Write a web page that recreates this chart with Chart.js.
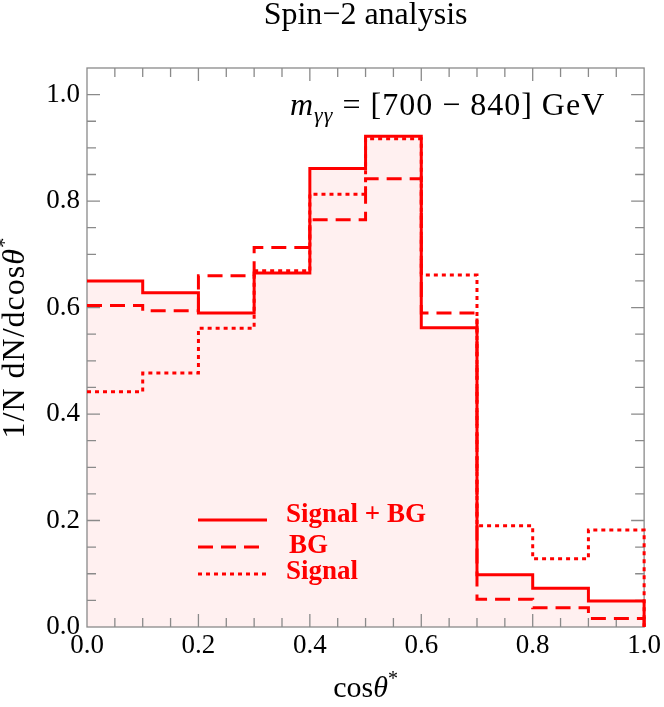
<!DOCTYPE html>
<html>
<head>
<meta charset="utf-8">
<script src="https://cdn.jsdelivr.net/npm/chart.js@4.4.1/dist/chart.umd.min.js"></script>
<style>
  html, body { margin: 0; padding: 0; background: #fff; }
  canvas { display: block; }
</style>
</head>
<body>
<canvas id="chart" width="664" height="707"></canvas>
<script>
// bin edges of cos(theta*) and the three histograms (one value per bin)
const binEdges = [0.0, 0.1, 0.2, 0.3, 0.4, 0.5, 0.6, 0.7, 0.8, 0.9, 1.0];
const signalPlusBG = [0.650, 0.628, 0.590, 0.665, 0.861, 0.922, 0.562, 0.098, 0.073, 0.049];
const bgOnly = [0.604, 0.594, 0.660, 0.713, 0.765, 0.842, 0.590, 0.052, 0.036, 0.016];
const signalOnly = [0.442, 0.477, 0.561, 0.669, 0.813, 0.917, 0.661, 0.190, 0.128, 0.182];
const seriesLabels = ['Signal + BG', 'BG', 'Signal'];
const xTicks = [0.0, 0.2, 0.4, 0.6, 0.8, 1.0];
const yTicks = [0.0, 0.2, 0.4, 0.6, 0.8, 1.0];

const SERIF = '"Liberation Serif", "Times New Roman", serif';
const RED = '#ff0000';

// bin values -> step outline, closed down to zero on the right side
function histPoints(values) {
    const pts = values.map((v, i) => ({ x: binEdges[i], y: v }));
    const last = binEdges[binEdges.length - 1];
    pts.push({ x: last, y: values[values.length - 1] });
    pts.push({ x: last, y: 0 });
    return pts;
}

function runsWidth(ctx, runs) {
    let w = 0;
    runs.forEach(r => { ctx.font = r.font; w += ctx.measureText(r.text).width; });
    return w;
}

function drawRuns(ctx, runs, x, y) {
    let cx = x;
    runs.forEach(r => {
        ctx.font = r.font;
        ctx.fillText(r.text, cx, y + (r.dy || 0));
        cx += ctx.measureText(r.text).width;
    });
}

// box with inward ticks on all four sides
const frameTicks = {
    id: 'frameTicks',
    beforeDatasetsDraw(chart) {
        const { ctx, chartArea: a, scales: { x, y } } = chart;
        ctx.save();
        ctx.strokeStyle = '#8a8a8a';
        ctx.lineWidth = 1.3;
        ctx.beginPath();
        for (let i = 1; i < 20; i++) {
            const px = x.getPixelForValue(i * 0.05);
            const len = i % 4 === 0 ? 13 : 9;
            ctx.moveTo(px, a.bottom); ctx.lineTo(px, a.bottom - len);
            ctx.moveTo(px, a.top); ctx.lineTo(px, a.top + len);
        }
        for (let i = 1; i <= 20; i++) {
            const py = y.getPixelForValue(i * 0.05);
            const len = i % 4 === 0 ? 13 : 9;
            ctx.moveTo(a.left, py); ctx.lineTo(a.left + len, py);
            ctx.moveTo(a.right, py); ctx.lineTo(a.right - len, py);
        }
        ctx.stroke();
        ctx.strokeRect(a.left, a.top, a.right - a.left, a.bottom - a.top);
        ctx.restore();
    }
};

// axis titles, mass window note and the legend
const decorations = {
    id: 'decorations',
    afterDraw(chart) {
        const { ctx, chartArea: a } = chart;
        ctx.save();
        ctx.fillStyle = '#000';
        ctx.textBaseline = 'alphabetic';

        const xTitle = [
            { text: 'cos', font: '30px ' + SERIF },
            { text: 'θ', font: 'italic 30px ' + SERIF },
            { text: '*', font: '20px ' + SERIF, dy: -12 }
        ];
        const cx = (a.left + a.right) / 2;
        drawRuns(ctx, xTitle, cx - runsWidth(ctx, xTitle) / 2, 697);

        ctx.letterSpacing = '1px';
        const yTitle = [
            { text: '1/N dN/dcos', font: '32px ' + SERIF },
            { text: 'θ', font: 'italic 32px ' + SERIF },
            { text: '*', font: '21px ' + SERIF, dy: -13 }
        ];
        ctx.save();
        ctx.translate(24, (a.top + a.bottom) / 2 - 10);
        ctx.rotate(-Math.PI / 2);
        drawRuns(ctx, yTitle, -runsWidth(ctx, yTitle) / 2, 0);
        ctx.restore();

        const note = [
            { text: 'm', font: 'italic 32px ' + SERIF },
            { text: 'γγ', font: 'italic 22px ' + SERIF, dy: 7 },
            { text: ' = [700 \u2212 840] GeV', font: '32px ' + SERIF }
        ];
        drawRuns(ctx, note, a.left + 203, a.top + 47);
        ctx.letterSpacing = '0px';

        // legend
        const rowY = [a.bottom - 107, a.bottom - 80, a.bottom - 53];
        const textY = [a.bottom - 112, a.bottom - 81, a.bottom - 55];
        chart.data.datasets.forEach((ds, i) => {
            ctx.strokeStyle = ds.borderColor;
            ctx.lineWidth = ds.borderWidth;
            ctx.setLineDash(ds.borderDash || []);
            ctx.beginPath();
            ctx.moveTo(a.left + 111, rowY[i]);
            ctx.lineTo(a.left + 180, rowY[i]);
            ctx.stroke();
            ctx.fillStyle = RED;
            ctx.font = 'bold 27px ' + SERIF;
            ctx.textBaseline = 'middle';
            ctx.fillText(ds.label, a.left + 199 + (i === 1 ? 3 : 0), textY[i]);
        });
        ctx.restore();
    }
};

new Chart(document.getElementById('chart'), {
    type: 'line',
    data: {
        datasets: [
            {
                label: seriesLabels[0],
                data: histPoints(signalPlusBG),
                borderColor: RED,
                backgroundColor: 'rgba(255, 0, 0, 0.06)',
                borderWidth: 3,
                fill: 'origin',
                stepped: true,
                pointRadius: 0,
                clip: 4
            },
            {
                label: seriesLabels[1],
                data: histPoints(bgOnly),
                borderColor: RED,
                borderWidth: 3,
                borderDash: [15, 8],
                fill: false,
                stepped: true,
                pointRadius: 0,
                clip: 4
            },
            {
                label: seriesLabels[2],
                data: histPoints(signalOnly),
                borderColor: RED,
                borderWidth: 3,
                borderDash: [4, 4],
                fill: false,
                stepped: true,
                pointRadius: 0,
                clip: 4
            }
        ]
    },
    options: {
        responsive: false,
        animation: false,
        layout: { padding: { right: 19 } },
        plugins: {
            legend: { display: false },
            tooltip: { enabled: false },
            filler: { drawTime: 'beforeDatasetsDraw' },
            title: {
                display: true,
                text: 'Spin\u22122 analysis',
                fullSize: false,
                color: '#000',
                font: { family: SERIF, size: 32, weight: 'normal', lineHeight: 1 },
                padding: { top: 0, bottom: 36 }
            }
        },
        scales: {
            x: {
                type: 'linear',
                min: 0,
                max: 1,
                grid: { display: false, drawTicks: false },
                border: { display: false },
                afterBuildTicks: (scale) => { scale.ticks = xTicks.map(v => ({ value: v })); },
                afterFit: (scale) => { scale.height = 80; },
                ticks: {
                    color: '#000',
                    padding: 3,
                    maxRotation: 0,
                    font: { family: SERIF, size: 27 },
                    callback: (v) => Number(v).toFixed(1)
                }
            },
            y: {
                type: 'linear',
                min: 0,
                max: 1.05,
                grid: { display: false, drawTicks: false },
                border: { display: false },
                afterBuildTicks: (scale) => { scale.ticks = yTicks.map(v => ({ value: v })); },
                afterFit: (scale) => { scale.width = 87; },
                ticks: {
                    color: '#000',
                    padding: 7,
                    font: { family: SERIF, size: 27 },
                    callback: (v) => Number(v).toFixed(1)
                }
            }
        }
    },
    plugins: [frameTicks, decorations]
});
</script>
</body>
</html>
